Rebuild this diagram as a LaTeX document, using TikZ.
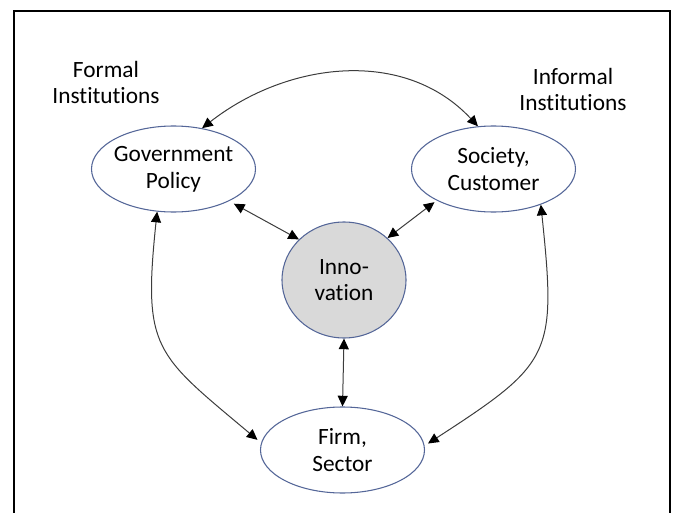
\documentclass[tikz,border=0pt]{standalone}
\usepackage{fontspec}
\setmainfont{Carlito}[RawFeature=-liga]
\usetikzlibrary{arrows.meta,shapes.geometric}
\definecolor{ovalBlue}{RGB}{84,102,152}
\definecolor{innoGray}{RGB}{217,217,217}
\definecolor{linkGray}{RGB}{60,60,60}
\tikzset{
  oval/.style={ellipse, draw=ovalBlue, fill=white, line width=0.8pt, align=center,
               minimum width=123pt, minimum height=64.5pt, inner xsep=-2pt, inner ysep=0pt,
               font=\fontsize{17.5pt}{20pt}\selectfont},
  innobox/.style={oval, fill=innoGray, minimum width=93pt, minimum height=87pt},
  tag/.style={align=center, font=\fontsize{17.5pt}{19.5pt}\selectfont},
  link/.style={{Triangle[length=8pt,width=7.5pt,color=black]}-{Triangle[length=8pt,width=7.5pt,color=black]},
               draw=linkGray, line width=0.75pt}
}
\begin{document}
\begin{tikzpicture}[x=0.75pt, y=0.75pt]
\useasboundingbox (0,0) rectangle (676,512);
% open frame, cut off at the bottom
\draw[line width=2.2pt] (14,-5) -- (14,501) -- (670,501) -- (670,-5);

\node[oval] (gov) at (173.5,343) {Government\\Policy};
\node[oval] (soc) at (493.5,343) {Society,\\Customer};
\node[oval] (firm) at (342.5,62) {Firm,\\Sector};
\node[innobox] (inno) at (344,232) {Inno-\\vation};

\node[tag] (formal) at (106,430) {Formal\\Institutions};
\node[tag] (informal) at (573,423) {Informal\\Institutions};

% outer ring
\draw[link] (gov.55) to[out=38, in=133] (soc.110);
\draw[link, shorten >=3.5pt] (gov.249) to[out=264, in=140, looseness=1.4] (firm.175);
\draw[link, shorten >=3pt] (soc.323) to[out=276, in=33, looseness=1.45] (firm.3);

% spokes to the centre
\draw[link, shorten <=4pt] (gov.-30) -- (inno.138);
\draw[link, shorten <=2pt] (soc.209) -- (inno.44);
\draw[link] (inno.south) -- (firm.north);
\end{tikzpicture}
\end{document}
